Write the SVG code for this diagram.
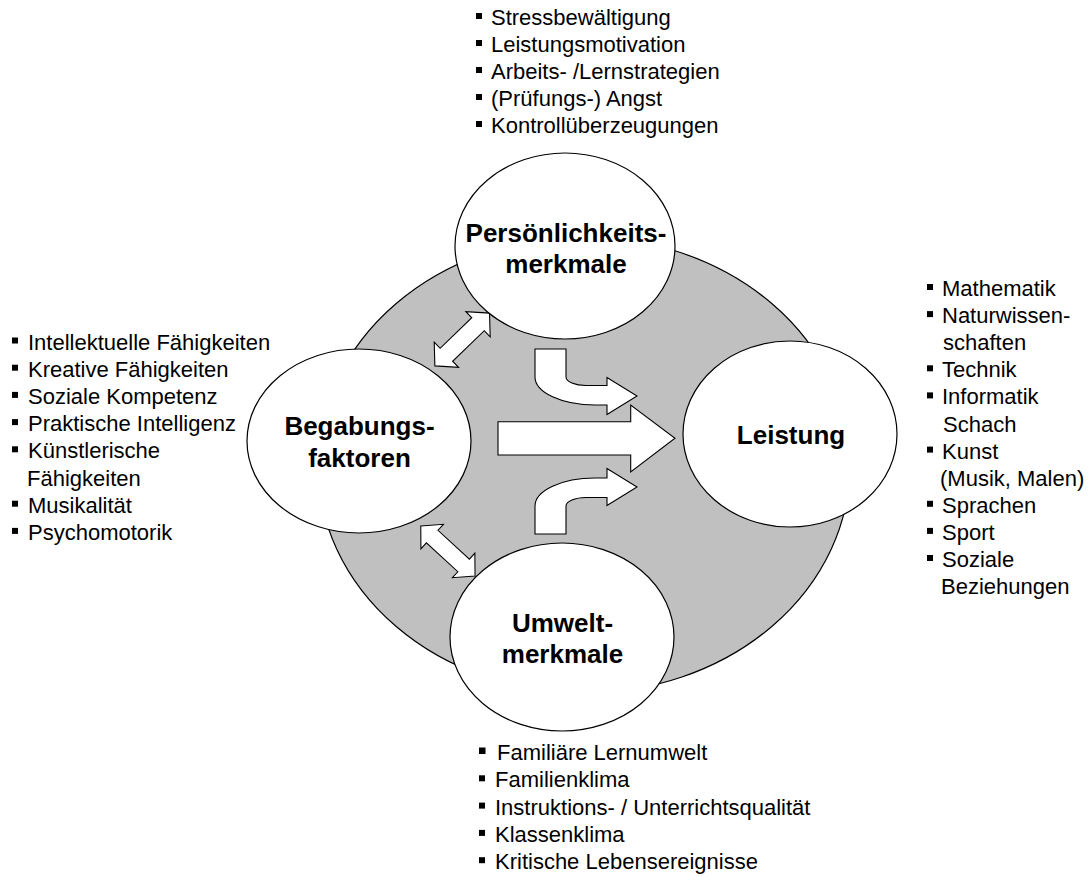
<svg xmlns="http://www.w3.org/2000/svg" width="1089" height="877" viewBox="0 0 1089 877">
<style>
.bg{fill:#C0C0C0;stroke:#000;stroke-width:1.2}
.node{fill:#fff;stroke:#000;stroke-width:1.2}
.arr{fill:#fff;stroke:#000;stroke-width:1.1;stroke-linejoin:miter}
.lbl{font-family:"Liberation Sans",Arial,sans-serif;font-size:26px;font-weight:bold;fill:#000;text-anchor:middle}
.li{font-family:"Liberation Sans",Arial,sans-serif;font-size:22px;fill:#000}
.b{fill:#000}
</style>
<defs>
<polygon id="dbl" points="-38,0 -22,-17.5 -22,-9 22,-9 22,-17.5 38,0 22,17.5 22,9 -22,9 -22,17.5"/>
</defs>
<ellipse id="backdrop" class="bg" cx="584" cy="465" rx="266" ry="228"/>
<g id="connectors">
<use href="#dbl" class="arr" transform="translate(462.2,339.5) rotate(-44)"/>
<use href="#dbl" class="arr" transform="translate(447.9,551) rotate(42.6) scale(0.97,0.95)"/>
<path class="arr" d="M535,349 H566 V377 A20 8.5 0 0 0 586,385.5 H607 V377.5 L637,396 L607,414.5 V405 H595 A60 28 0 0 1 535,377 Z"/>
<path class="arr" d="M535,534 H566 V506 A20 8.5 0 0 1 586,497.5 H607 V505.5 L637,487 L607,468.5 V478 H595 A60 28 0 0 0 535,506 Z"/>
<path class="arr" d="M498,421.7 H630.7 V405 L675,438.3 L630.7,472 V455 H498 Z"/>
</g>
<g id="persoenlichkeit">
<ellipse class="node" cx="565" cy="246" rx="110" ry="93"/>
<text class="lbl" x="566" y="242">Persönlichkeits-</text>
<text class="lbl" x="566" y="273">merkmale</text>
</g>
<g id="begabung">
<ellipse class="node" cx="359" cy="441" rx="112" ry="92"/>
<text class="lbl" x="359.5" y="435">Begabungs-</text>
<text class="lbl" x="359.5" y="467">faktoren</text>
</g>
<g id="leistung">
<ellipse class="node" cx="790" cy="434" rx="107" ry="93"/>
<text class="lbl" x="791" y="444">Leistung</text>
</g>
<g id="umwelt">
<ellipse class="node" cx="562" cy="637" rx="112" ry="94"/>
<text class="lbl" x="562.5" y="632">Umwelt-</text>
<text class="lbl" x="562.5" y="663">merkmale</text>
</g>
<g id="list-persoenlichkeit">
<rect class="b" x="476" y="13" width="6" height="6"/>
<rect class="b" x="476" y="40" width="6" height="6"/>
<rect class="b" x="476" y="67" width="6" height="6"/>
<rect class="b" x="476" y="94" width="6" height="6"/>
<rect class="b" x="476" y="121" width="6" height="6"/>
<text class="li" x="491" y="25">Stressbewältigung</text>
<text class="li" x="491" y="52">Leistungsmotivation</text>
<text class="li" x="491" y="79">Arbeits- /Lernstrategien</text>
<text class="li" x="491" y="106">(Prüfungs-) Angst</text>
<text class="li" x="491" y="133">Kontrollüberzeugungen</text>
</g>
<g id="list-begabung">
<rect class="b" x="12" y="337.5" width="6" height="6"/>
<rect class="b" x="12" y="364.7" width="6" height="6"/>
<rect class="b" x="12" y="391.9" width="6" height="6"/>
<rect class="b" x="12" y="419.1" width="6" height="6"/>
<rect class="b" x="12" y="446.3" width="6" height="6"/>
<rect class="b" x="12" y="500.7" width="6" height="6"/>
<rect class="b" x="12" y="527.9" width="6" height="6"/>
<text class="li" x="28" y="349.5">Intellektuelle Fähigkeiten</text>
<text class="li" x="28" y="376.7">Kreative Fähigkeiten</text>
<text class="li" x="28" y="403.9">Soziale Kompetenz</text>
<text class="li" x="28" y="431.1">Praktische Intelligenz</text>
<text class="li" x="28" y="458.3">Künstlerische</text>
<text class="li" x="27" y="485.5">Fähigkeiten</text>
<text class="li" x="28" y="512.7">Musikalität</text>
<text class="li" x="28" y="539.9">Psychomotorik</text>
</g>
<g id="list-leistung">
<rect class="b" x="927" y="284" width="6" height="6"/>
<rect class="b" x="927" y="311.1" width="6" height="6"/>
<rect class="b" x="927" y="365.3" width="6" height="6"/>
<rect class="b" x="927" y="392.4" width="6" height="6"/>
<rect class="b" x="927" y="446.6" width="6" height="6"/>
<rect class="b" x="927" y="500.8" width="6" height="6"/>
<rect class="b" x="927" y="527.9" width="6" height="6"/>
<rect class="b" x="927" y="555" width="6" height="6"/>
<text class="li" x="942" y="296">Mathematik</text>
<text class="li" x="942" y="323.1">Naturwissen-</text>
<text class="li" x="943" y="350.2">schaften</text>
<text class="li" x="942" y="377.3">Technik</text>
<text class="li" x="942" y="404.4">Informatik</text>
<text class="li" x="943" y="431.5">Schach</text>
<text class="li" x="942" y="458.6">Kunst</text>
<text class="li" x="940" y="485.7">(Musik, Malen)</text>
<text class="li" x="942" y="512.8">Sprachen</text>
<text class="li" x="942" y="539.9">Sport</text>
<text class="li" x="942" y="567">Soziale</text>
<text class="li" x="941" y="594.1">Beziehungen</text>
</g>
<g id="list-umwelt">
<rect class="b" x="479" y="747.5" width="6.5" height="6.5"/>
<rect class="b" x="479" y="775.3" width="6" height="6"/>
<rect class="b" x="479" y="802.6" width="6" height="6"/>
<rect class="b" x="479" y="829.9" width="6" height="6"/>
<rect class="b" x="479" y="857.2" width="6" height="6"/>
<text class="li" x="497" y="760">Familiäre Lernumwelt</text>
<text class="li" x="495" y="787.3">Familienklima</text>
<text class="li" x="495" y="814.6">Instruktions- / Unterrichtsqualität</text>
<text class="li" x="495" y="841.9">Klassenklima</text>
<text class="li" x="495" y="869.2">Kritische Lebensereignisse</text>
</g>
</svg>
